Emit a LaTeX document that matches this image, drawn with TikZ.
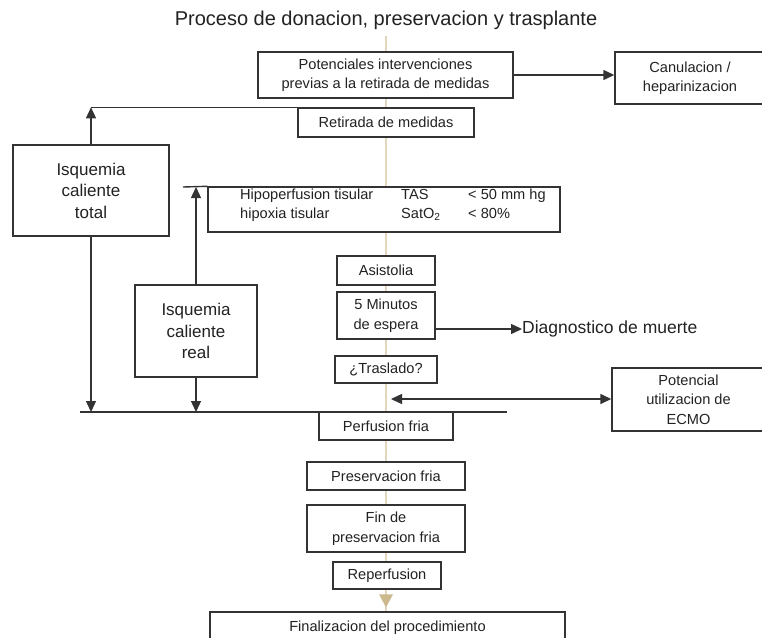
\documentclass[tikz,border=0pt]{standalone}
\usepackage{fontspec}
\setmainfont{Liberation Sans}
\usetikzlibrary{arrows.meta,backgrounds,calc}
\definecolor{linec}{HTML}{333333}
\definecolor{textc}{HTML}{222222}
\definecolor{tanline}{HTML}{E2D6BC}
\definecolor{tantip}{HTML}{CDB98E}
\begin{document}
\begin{tikzpicture}[x=1pt,y=-1pt,
  box/.style={draw=linec, line width=1.4pt, fill=white, inner sep=0pt, align=center,
    text=textc, font=\fontsize{14.6}{19.5}\selectfont},
  bigbox/.style={box, font=\fontsize{17}{21.5}\selectfont},
  ln/.style={draw=linec, line width=1.4pt},
  tip/.style={-{Triangle[length=11pt,width=10pt]}},
  lbl/.style={text=textc, inner sep=0pt, font=\fontsize{14.6}{16}\selectfont}]
\useasboundingbox (0,0) rectangle (762,637);

\node[text=textc, font=\fontsize{20}{23}\selectfont] (title) at (386,20) {Proceso de donacion, preservacion y trasplante};

\node[box, minimum width=255pt, minimum height=46pt] (pot) at (385.5,75) {Potenciales intervenciones\\previas a la retirada de medidas};
\node[box, minimum width=150pt, minimum height=52pt] (can) at (690,78) {Canulacion /\\heparinizacion};
\node[box, minimum width=176pt, minimum height=29pt] (ret) at (386,122.5) {Retirada de medidas};
\node[bigbox, minimum width=156pt, minimum height=91pt] (ict) at (91,190.5) {Isquemia\\caliente\\total};
\node[box, minimum width=352pt, minimum height=45pt] (hip) at (384,209.5) {};
\node[lbl, anchor=base west] (h1) at (240,199.5) {Hipoperfusion tisular};
\node[lbl, anchor=base west] (h2) at (240,218) {hipoxia tisular};
\node[lbl, anchor=base west] (h3) at (401,199.5) {TAS};
\node[lbl, anchor=base west] (h4) at (401,218) {SatO\textsubscript{2}};
\node[lbl, anchor=base west] (h5) at (468,199.5) {< 50 mm hg};
\node[lbl, anchor=base west] (h6) at (468,218) {< 80\%};
\node[bigbox, minimum width=122pt, minimum height=92pt] (icr) at (196,331) {Isquemia\\caliente\\real};
\node[box, minimum width=98pt, minimum height=29pt] (asi) at (386,270.5) {Asistolia};
\node[box, minimum width=98pt, minimum height=47pt] (min) at (386,315.5) {5 Minutos\\de espera};
\node[box, minimum width=102pt, minimum height=27pt] (tra) at (386,369.5) {¿Traslado?};
\node[box, minimum width=153pt, minimum height=63pt] (ecmo) at (688.5,399.5) {Potencial\\utilizacion de\\ECMO};
\node[box, minimum width=134pt, minimum height=28pt] (perf) at (386,426) {Perfusion fria};
\node[box, minimum width=158pt, minimum height=28pt] (pres) at (386,476) {Preservacion fria};
\node[box, minimum width=158pt, minimum height=47pt] (fin) at (386,528.5) {Fin de\\preservacion fria};
\node[box, minimum width=108pt, minimum height=27pt] (rep) at (387,575.5) {Reperfusion};
\node[box, minimum width=355pt, minimum height=32pt] (final) at (387.5,628) {Finalizacion del procedimiento};

\node[text=textc, inner sep=0pt, anchor=west, font=\fontsize{17.5}{20}\selectfont] (diag) at (522,329) {Diagnostico de muerte};

\begin{scope}[on background layer]
  \fill[white] (0,0) rectangle (762,637);
  \coordinate (topc) at (386,36);
  \draw[draw=tanline, line width=1.8pt] (topc) -- (topc |- final.north);
  \fill[tantip] ($(topc |- final.north)+(0,-4)$) -- ++(-7,-13) -- ++(14,0) -- cycle;
\end{scope}

\draw[ln, tip] (pot.east) -- (pot.east -| can.west);

\coordinate (tl) at (ict.north |- ret.north west);
\draw[ln] (ret.north west) -- (tl);
\draw[ln, tip] (ict.north) -- (tl);

\coordinate (hleft) at (183,187);
\draw[ln] (hip.north west) -- (hleft);
\draw[ln, tip] (icr.north) -- (icr.north |- hleft);

\coordinate (bl) at (80,412);
\coordinate (br) at (507,412);
\draw[ln] (bl) -- (br);
\draw[ln, tip] (ict.south) -- (ict.south |- bl);
\draw[ln, tip] (icr.south) -- (icr.south |- bl);

\draw[ln, tip] (diag.west -| min.east) -- (diag.west);

\coordinate (dl) at (391,399);
\draw[ln, {Triangle[length=11pt,width=10pt]}-{Triangle[length=11pt,width=10pt]}] (dl) -- (dl -| ecmo.west);
\end{tikzpicture}
\end{document}
